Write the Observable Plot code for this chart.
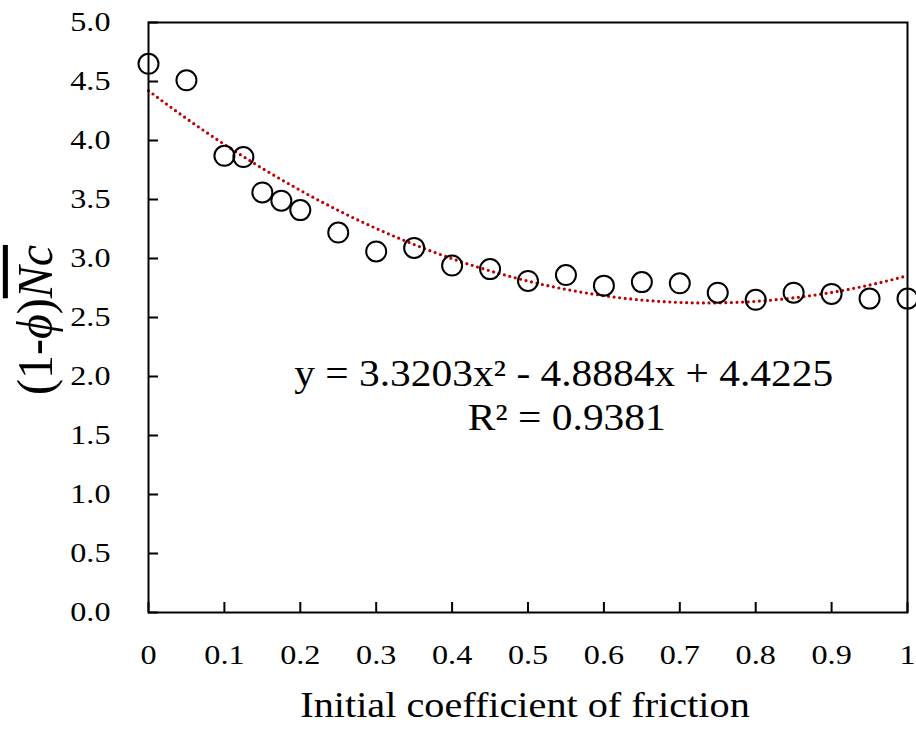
<!DOCTYPE html>
<html>
<head>
<meta charset="utf-8">
<script src="https://cdn.jsdelivr.net/npm/d3@7"></script>
<script src="https://cdn.jsdelivr.net/npm/@observablehq/plot@0.6"></script>
<style>
  html, body { margin: 0; padding: 0; background: #fff; }
  #chart { width: 916px; height: 731px; }
</style>
</head>
<body>
<div id="chart"></div>
<script>
// ---- data ----
const friction = [0, 0.05, 0.1, 0.125, 0.15, 0.175, 0.2, 0.25, 0.3, 0.35, 0.4, 0.45, 0.5, 0.55, 0.6, 0.65, 0.7, 0.75, 0.8, 0.85, 0.9, 0.95, 1.0];
const ncValues = [4.65, 4.51, 3.87, 3.86, 3.56, 3.49, 3.41, 3.22, 3.06, 3.09, 2.94, 2.91, 2.81, 2.86, 2.77, 2.80, 2.79, 2.71, 2.65, 2.71, 2.70, 2.66, 2.66];
const trendCoef = [3.3203, -4.8884, 4.4225]; // a x^2 + b x + c (from the chart's equation)
const xTicks = [0, 0.1, 0.2, 0.3, 0.4, 0.5, 0.6, 0.7, 0.8, 0.9, 1];
const yTicks = [0, 0.5, 1, 1.5, 2, 2.5, 3, 3.5, 4, 4.5, 5];
const xTickLabels = ["0", "0.1", "0.2", "0.3", "0.4", "0.5", "0.6", "0.7", "0.8", "0.9", "1"];
const yTickLabels = ["0.0", "0.5", "1.0", "1.5", "2.0", "2.5", "3.0", "3.5", "4.0", "4.5", "5.0"];
const xTitle = "Initial coefficient of friction";
const equationText = "y = 3.3203x² - 4.8884x + 4.4225";
const r2Text = "R² = 0.9381";

const points = friction.map((x, i) => ({x, y: ncValues[i]}));
const trendX = d3.range(0, 101).map(i => i / 100);
const trend = trendX.map(x => ({x, y: trendCoef[0] * x * x + trendCoef[1] * x + trendCoef[2]}));

const serif = "Liberation Serif, Times New Roman, Times, serif";

const chart = Plot.plot({
  width: 916,
  height: 731,
  marginLeft: 148,
  marginRight: 9,
  marginTop: 22,
  marginBottom: 119,
  style: {fontFamily: serif, fontSize: "28px", color: "#000", background: "#fff", overflow: "visible"},
  x: {domain: [0, 1]},
  y: {domain: [0, 5]},
  marks: [
    Plot.line(trend, {x: "x", y: "y", stroke: "#c00000", strokeWidth: 3.2, strokeDasharray: "0,5.6", strokeLinecap: "round"}),
    Plot.dot(points, {x: "x", y: "y", r: 10, stroke: "#000", strokeWidth: 2, fill: "none"}),
    Plot.frame({stroke: "#000", strokeWidth: 2}),
    Plot.axisX({ticks: xTicks, tickSize: -10, text: null, strokeWidth: 2, label: null}),
    Plot.axisY({ticks: yTicks, tickSize: -10, text: null, strokeWidth: 2, label: null}),
    Plot.axisX({ticks: xTicks, tickSize: 0, tickPadding: 32, tickFormat: (d) => xTickLabels[xTicks.indexOf(d)], fontSize: 28, fontFamily: serif, label: null}),
    Plot.axisY({ticks: yTicks, tickSize: 0, tickPadding: 38, tickFormat: (d) => yTickLabels[yTicks.indexOf(d)], fontSize: 28, fontFamily: serif, label: null}),
    Plot.text([xTitle], {frameAnchor: "bottom", dy: 93, dx: -3, fontSize: 35, fontFamily: serif, lineAnchor: "middle", fill: "#000"}),
    Plot.text([equationText], {x: 0.547, y: 2.02, fontSize: 37, fontFamily: serif, fill: "#000", lineAnchor: "middle", className: "eq"}),
    Plot.text([r2Text], {x: 0.551, y: 1.65, fontSize: 37, fontFamily: serif, fill: "#000", lineAnchor: "middle", className: "eq"})
  ]
});

const svg = d3.select(chart);
// The reference figure's lettering is stretched horizontally
svg.selectAll("text").each(function () {
  const t = this.getAttribute("transform") || "";
  const inEq = this.closest(".eq") != null;
  this.setAttribute("transform", t + (inEq ? " scale(1.12,1)" : " scale(1.15,1)"));
}).style("font-family", serif);

// y-axis title with italic symbols and overline
const yl = svg.append("text")
  .attr("transform", "translate(52,320) scale(1.05,1) rotate(-90)")
  .attr("text-anchor", "middle")
  .attr("font-size", 48)
  .attr("fill", "#000")
  .style("font-family", serif);
yl.append("tspan").text("(1-");
yl.append("tspan").attr("font-style", "italic").text("ϕ");
yl.append("tspan").text(")");
yl.append("tspan").attr("font-style", "italic").style("text-decoration", "overline").text("Nc");

document.getElementById("chart").appendChild(chart);
</script>
</body>
</html>
